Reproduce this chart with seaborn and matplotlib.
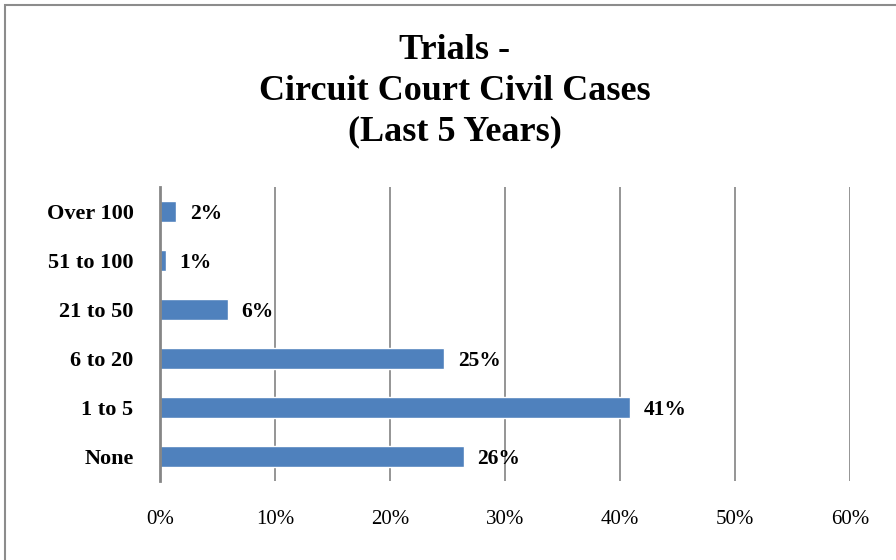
import matplotlib
matplotlib.use("Agg")
import matplotlib.pyplot as plt
import seaborn as sns
import pandas as pd
from matplotlib.patches import Rectangle
from matplotlib.ticker import FuncFormatter

sns.set_theme(style="white")
plt.rcParams['font.family'] = ['Liberation Serif', 'DejaVu Serif']

# data (top to bottom)
categories = ["Over 100", "51 to 100", "21 to 50", "6 to 20", "1 to 5", "None"]
shares = [1.4, 0.5, 5.9, 24.7, 40.9, 26.4]
labels = ["2%", "1%", "6%", "25%", "41%", "26%"]

df = pd.DataFrame({"category": categories, "share": shares})

fig = plt.figure(figsize=(8.96, 5.6), dpi=100)
ax = fig.add_axes([160 / 896, 1 - 481 / 560, 690 / 896, 294 / 560])

sns.barplot(data=df, x="share", y="category", order=categories,
            color="#4F81BD", saturation=1, width=0.41, ax=ax)

for bar, lab in zip(ax.patches, labels):
    ax.annotate(lab, (bar.get_width(), bar.get_y() + bar.get_height() / 2),
                xytext=(10, -1.5), textcoords="offset points",
                ha="left", va="center", fontsize=15.5, fontweight="bold",
                color="#000000")

ax.set_xlim(0, 60)
ax.set_xticks(range(0, 61, 10))
ax.xaxis.set_major_formatter(FuncFormatter(lambda v, p: f"{v:.0f}%"))
ax.grid(axis="x", color="#8C8C8C", linewidth=1.3)
ax.grid(axis="y", visible=False)
ax.set_axisbelow(True)
for s in ["top", "right", "bottom"]:
    ax.spines[s].set_visible(False)
ax.spines["left"].set_color("#868686")
ax.spines["left"].set_linewidth(2)
ax.set_xlabel("")
ax.set_ylabel("")
ax.tick_params(axis="x", labelsize=15, pad=21, length=0, colors="#000000")
ax.tick_params(axis="y", labelsize=16, pad=19, length=0, colors="#000000")
for t in ax.get_yticklabels():
    t.set_fontweight("bold")

fig.text(455 / 896, 1 - 91 / 560, "Trials -\nCircuit Court Civil Cases\n(Last 5 Years)",
         ha="center", va="center", fontsize=26, fontweight="bold",
         linespacing=1.3, color="#000000")

# outer chart border
fig.patches.append(Rectangle((5 / 896, -0.1), 1.2, 1 - 5 / 560 + 0.1,
                             transform=fig.transFigure, fill=False,
                             edgecolor="#8C8C8C", linewidth=1.5))

fig.savefig("out.png", dpi=100)
